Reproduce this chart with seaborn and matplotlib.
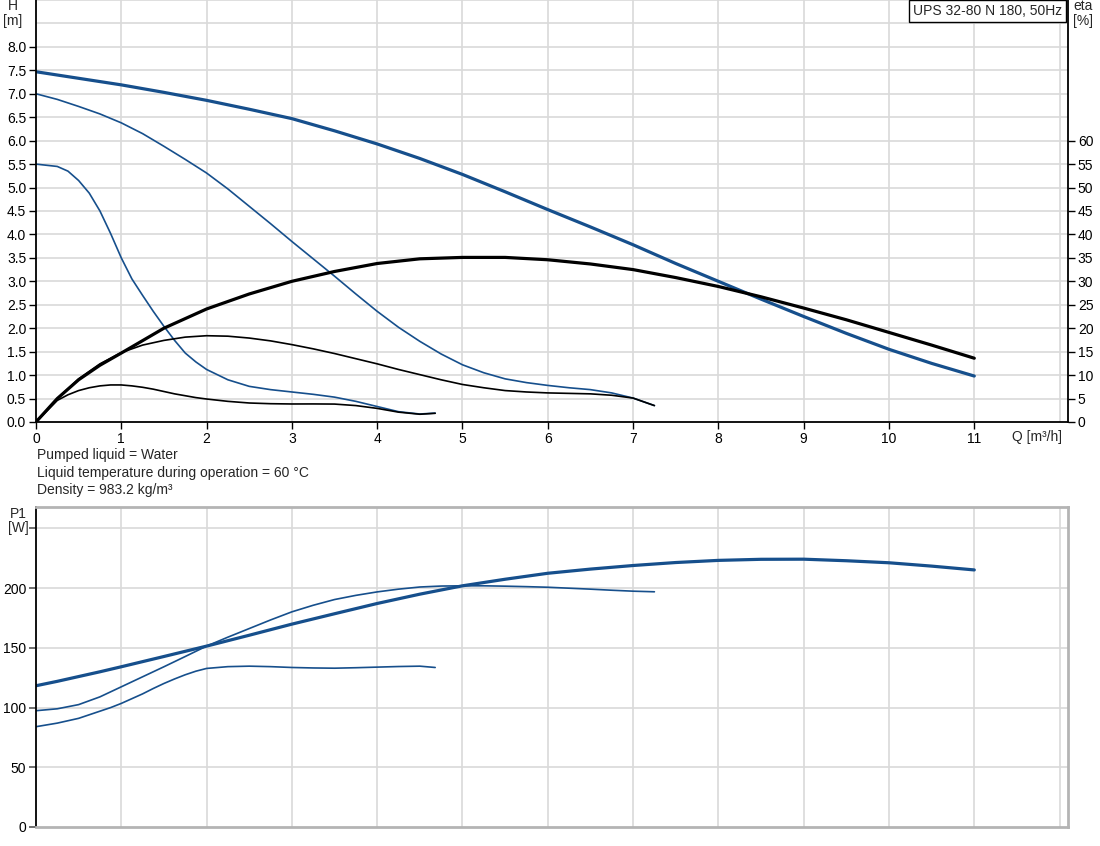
import matplotlib
matplotlib.use("Agg")
import matplotlib.pyplot as plt
import seaborn as sns
import numpy as np

# Q values [m3/h] and readings taken off the reference curves
q_max = [0, 0.25, 0.5, 0.75, 1, 1.5, 2, 2.5, 3, 3.5, 4, 4.5, 5, 5.5, 6, 6.5, 7, 7.5, 8, 8.5, 9, 9.5, 10, 10.5, 11]
h_max = [7.47, 7.40, 7.33, 7.26, 7.19, 7.03, 6.86, 6.67, 6.47, 6.21, 5.93, 5.62, 5.28, 4.91, 4.53, 4.16, 3.78, 3.38, 3.00, 2.62, 2.25, 1.89, 1.55, 1.25, 0.98]
eta_max = [0, 5.0, 9.0, 12.1, 14.7, 20.0, 24.1, 27.3, 30.0, 32.1, 33.8, 34.8, 35.1, 35.1, 34.6, 33.7, 32.5, 30.8, 28.9, 26.7, 24.3, 21.8, 19.1, 16.4, 13.6]
p1_max = [118.3, 122, 126, 130, 134.2, 142.8, 151.5, 160.6, 169.9, 178.6, 187.2, 195, 202, 207.5, 212.5, 216, 219, 221.5, 223.3, 224.2, 224.3, 223, 221.3, 218.5, 215.3]

q_mid = [0, 0.25, 0.5, 0.75, 1, 1.25, 1.5, 1.75, 2, 2.25, 2.5, 2.75, 3, 3.25, 3.5, 3.75, 4,
         4.25, 4.5, 4.75, 5, 5.25, 5.5, 5.75, 6, 6.25, 6.5, 6.75, 7, 7.25]
h_mid = [7.0, 6.88, 6.73, 6.57, 6.38, 6.15, 5.88, 5.6, 5.31, 4.97, 4.6, 4.23, 3.85, 3.48, 3.11, 2.73, 2.36,
         2.02, 1.72, 1.45, 1.22, 1.05, 0.92, 0.84, 0.78, 0.73, 0.69, 0.62, 0.51, 0.35]
eta_mid = [0, 5.0, 9.2, 12.4, 14.8, 16.4, 17.4, 18.1, 18.4, 18.3, 17.9, 17.3, 16.5, 15.6, 14.6, 13.5, 12.4,
           11.2, 10.1, 9.0, 8.0, 7.3, 6.7, 6.4, 6.2, 6.1, 6.0, 5.7, 5.1, 3.5]
p1_mid = [97.4, 99, 102.5, 109, 117.4, 125.8, 134.2, 142.8, 151.5, 159, 166.2, 173.4, 180.2, 185.7, 190.5, 194, 196.9,
          199.2, 201, 201.8, 202, 202, 201.7, 201.3, 200.8, 200, 199.2, 198.3, 197.5, 197]

q_low = [0, 0.25, 0.375, 0.5, 0.625, 0.75, 0.875, 1, 1.125, 1.25, 1.375, 1.5, 1.625, 1.75, 1.875, 2,
         2.25, 2.5, 2.75, 3, 3.25, 3.5, 3.75, 4, 4.25, 4.5, 4.68]
h_low = [5.5, 5.45, 5.35, 5.15, 4.88, 4.5, 4.02, 3.5, 3.05, 2.7, 2.36, 2.04, 1.74, 1.47, 1.28, 1.12,
         0.9, 0.76, 0.69, 0.64, 0.59, 0.53, 0.44, 0.33, 0.22, 0.17, 0.19]
eta_low = [0, 4.6, 5.8, 6.7, 7.3, 7.7, 7.9, 7.9, 7.7, 7.4, 7.0, 6.5, 6.0, 5.6, 5.2, 4.9,
           4.4, 4.05, 3.9, 3.84, 3.85, 3.82, 3.5, 2.9, 2.1, 1.65, 1.85]
p1_low = [84, 87, 89, 91, 94, 97, 100, 103.5, 107.5, 111.5, 116, 120.2, 124, 127.5, 130.5, 132.8,
          134.3, 134.7, 134.3, 133.6, 133.2, 133, 133.4, 133.9, 134.4, 134.7, 133.6]

h_ticks = np.arange(0, 8.01, 0.5)
eta_ticks = np.arange(0, 61, 5)
q_ticks = np.arange(0, 12, 1)
p1_ticks = [0, 50, 100, 150, 200]

blue = "#164f8c"
grid_c = "#d9d9d9"

sns.set_theme(style="white")
plt.rcParams["font.family"] = ["Liberation Sans", "DejaVu Sans"]
plt.rcParams["font.size"] = 10

fig = plt.figure(figsize=(11, 8.46), dpi=100)
x_max = 12.1

# ---- top: head + efficiency
ax = fig.add_axes([0.0327, 0.5012, 0.9383, 0.4988])
ax.set_xlim(0, x_max)
ax.set_ylim(0, 9)
ax.set_xticks(q_ticks)
ax.set_xticklabels([str(v) for v in q_ticks])
ax.set_yticks(h_ticks)
ax.set_yticklabels([f"{v:.1f}" for v in h_ticks])
for g in np.arange(1, 12.5, 1):
    ax.axvline(g, color=grid_c, lw=1.2, zorder=0)
for g in np.arange(0.5, 9.01, 0.5):
    ax.axhline(g, color=grid_c, lw=1.2, zorder=0)

sns.lineplot(x=q_max, y=h_max, ax=ax, color=blue, lw=2.3)
sns.lineplot(x=q_mid, y=h_mid, ax=ax, color=blue, lw=1.2)
sns.lineplot(x=q_low, y=h_low, ax=ax, color=blue, lw=1.2)

ax2 = ax.twinx()
ax2.set_ylim(0, 90)
ax2.set_yticks(eta_ticks)
ax2.set_yticklabels([str(v) for v in eta_ticks])
sns.lineplot(x=q_max, y=eta_max, ax=ax2, color="black", lw=2.3)
sns.lineplot(x=q_mid, y=eta_mid, ax=ax2, color="black", lw=1.2)
sns.lineplot(x=q_low, y=eta_low, ax=ax2, color="black", lw=1.2)
ax2.set_xlim(0, x_max)

for a in (ax, ax2):
    a.set_xlabel("")
    a.set_ylabel("")
    a.grid(False)
    for s in a.spines.values():
        s.set_visible(False)
ax.spines["left"].set_visible(True)
ax.spines["bottom"].set_visible(True)
ax2.spines["right"].set_visible(True)
for s in ("left", "bottom"):
    ax.spines[s].set_color("black")
    ax.spines[s].set_linewidth(1.3)
ax2.spines["right"].set_color("black")
ax2.spines["right"].set_linewidth(1.3)
ax.tick_params(axis="both", direction="out", length=5, width=1, colors="black",
               labelsize=10, pad=2, left=True, bottom=True)
ax2.tick_params(axis="y", direction="out", length=5, width=1, colors="black",
                labelsize=10, pad=2, right=True)

ax.text(0.9942, 1 - 11 / 422, "UPS 32-80 N 180, 50Hz", transform=ax.transAxes, ha="right", va="center",
        fontsize=10, bbox=dict(boxstyle="square,pad=0.3", fc="white", ec="black", lw=1), zorder=10)

fig.text(13 / 1100, 1 - 6 / 846, "H", ha="center", va="center", fontsize=10)
fig.text(13 / 1100, 1 - 21 / 846, "[m]", ha="center", va="center", fontsize=10)
fig.text(1083 / 1100, 1 - 6 / 846, "eta", ha="center", va="center", fontsize=10)
fig.text(1083 / 1100, 1 - 21 / 846, "[%]", ha="center", va="center", fontsize=10)
fig.text(1037 / 1100, 1 - 437 / 846, "Q [m³/h]", ha="center", va="center", fontsize=10)

fig.text(37 / 1100, 1 - 455 / 846, "Pumped liquid = Water", ha="left", va="center", fontsize=10)
fig.text(37 / 1100, 1 - 473 / 846, "Liquid temperature during operation = 60 °C", ha="left", va="center", fontsize=10)
fig.text(37 / 1100, 1 - 490 / 846, "Density = 983.2 kg/m³", ha="left", va="center", fontsize=10)

# ---- bottom: power
bx = fig.add_axes([0.0327, 0.02246, 0.9383, 0.37824])
bx.set_xlim(0, x_max)
bx.set_ylim(0, 268)
for g in np.arange(1, 12.5, 1):
    bx.axvline(g, color=grid_c, lw=1.2, zorder=0)
for g in [50, 100, 150, 200, 250]:
    bx.axhline(g, color=grid_c, lw=1.2, zorder=0)
sns.lineplot(x=q_max, y=p1_max, ax=bx, color=blue, lw=2.3)
sns.lineplot(x=q_mid, y=p1_mid, ax=bx, color=blue, lw=1.2)
sns.lineplot(x=q_low, y=p1_low, ax=bx, color=blue, lw=1.2)
bx.set_xlabel("")
bx.set_ylabel("")
bx.set_xticks([])
bx.set_yticks(p1_ticks + [250])
bx.set_yticklabels([str(v) for v in p1_ticks] + [""])
bx.tick_params(axis="y", direction="out", length=5, width=1.2, colors="#555555",
               labelcolor="black", labelsize=10, pad=2, left=True)
for s in ("top", "right", "bottom"):
    bx.spines[s].set_color("#b4b4b4")
    bx.spines[s].set_linewidth(2)
bx.spines["left"].set_color("black")
bx.spines["left"].set_linewidth(1.3)
bx.grid(False)
fig.text(18 / 1100, 1 - 514 / 846, "P1", ha="center", va="center", fontsize=10)
fig.text(18 / 1100, 1 - 528 / 846, "[W]", ha="center", va="center", fontsize=10)

fig.savefig("out.png", dpi=100)
